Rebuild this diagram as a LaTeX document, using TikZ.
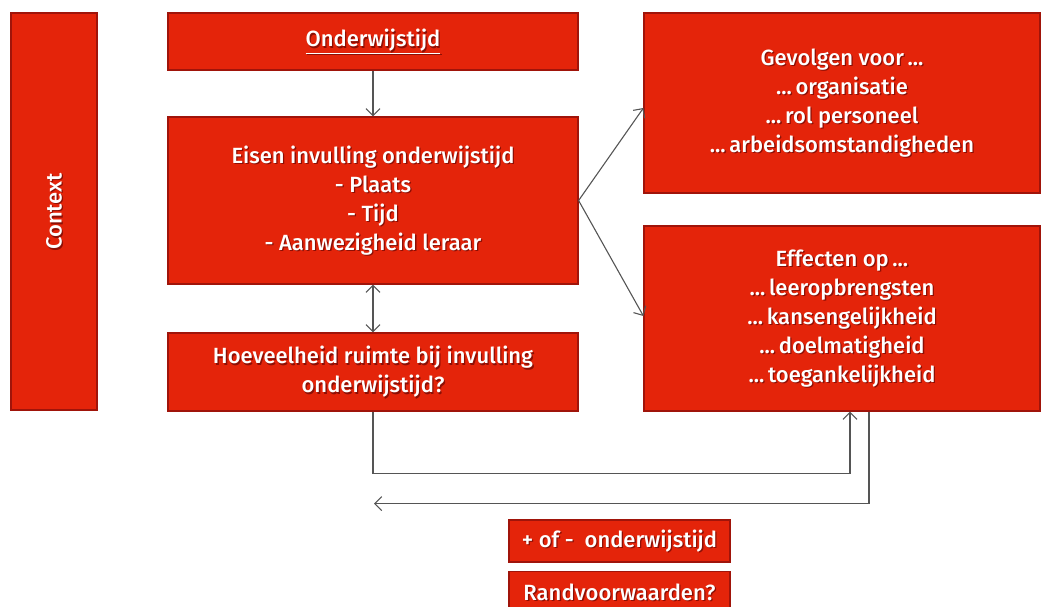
\documentclass[tikz,border=0pt]{standalone}
\usepackage{fontspec}
\setmainfont{Fira Sans}[UprightFont={* Medium}]
\usetikzlibrary{arrows.meta,calc}
\definecolor{boxred}{RGB}{228,36,10}
\definecolor{boxedge}{RGB}{160,20,10}
\definecolor{shadowc}{RGB}{140,15,5}
\definecolor{linegray}{RGB}{85,85,85}
\tikzset{
  rbox/.style={draw=boxedge, line width=1.2pt, fill=boxred, inner sep=0pt},
  txt/.style={text=white, inner sep=0pt, align=center, font=\fontsize{22}{29}\selectfont},
  shd/.style={txt, text=shadowc},
  conn/.style={draw=linegray, line width=1.1pt, -{Straight Barb[length=7pt,width=14pt]}},
  conn2/.style={draw=linegray, line width=1.1pt, {Straight Barb[length=7pt,width=14pt]}-{Straight Barb[length=7pt,width=14pt]}}
}
% box: name, position, width, height, text
\newcommand\redbox[5]{%
  \node[rbox, minimum width=#3, minimum height=#4] (#1) at (#2) {};
  \node[shd] at ([xshift=1.3pt,yshift=-1.3pt]#1.center) {#5};
  \node[txt] (#1-t) at (#1.center) {#5};}
\begin{document}
\begin{tikzpicture}[x=1pt,y=-1pt]
\useasboundingbox (0,0) rectangle (1044,607);
\begin{scope}
\clip (0,0) rectangle (1044,607);
\node[rbox, minimum width=86pt, minimum height=397pt] (ctx) at (54,211.5) {};
\node[shd, rotate=90] at ([xshift=1.3pt,yshift=-1.3pt]ctx.center) {Context};
\node[txt, rotate=90] (ctx-t) at (ctx.center) {Context};
\redbox{ond}{373,41.5}{410pt}{57pt}{\underline{Onderwijstijd}}
\redbox{eis}{373,200.5}{410pt}{167pt}{Eisen invulling onderwijstijd\\- Plaats\\- Tijd\\- Aanwezigheid leraar}
\redbox{hoe}{373,372}{410pt}{78pt}{Hoeveelheid ruimte bij invulling\\onderwijstijd?}
\redbox{gev}{842,103}{396pt}{180pt}{Gevolgen voor\,...\\...\,organisatie\\...\,rol personeel\\...\,arbeidsomstandigheden}
\redbox{eff}{842,318.5}{396pt}{185pt}{Effecten op\,...\\...\,leeropbrengsten\\...\,kansengelijkheid\\...\,doelmatigheid\\...\,toegankelijkheid}
\redbox{plus}{619.5,541}{221pt}{42pt}{+ of -\ \ onderwijstijd}
\node[rbox, minimum width=221pt, minimum height=41pt, anchor=north] (rand) at (619.5,571) {};
\node[shd] at (620.8,593.3) {Randvoorwaarden?};
\node[txt] (rand-t) at (619.5,592) {Randvoorwaarden?};
\end{scope}
\draw[conn] (ond.south) -- (eis.north);
\draw[conn2] (eis.south) -- (hoe.north);
\draw[conn] (eis.east) -- ([yshift=-5pt]gev.west);
\draw[conn] (eis.east) -- ([yshift=2.5pt]eff.west);
\draw[conn] (hoe.south) -- ++(0,62) -| ([xshift=8pt]eff.south);
\coordinate (retend) at ([yshift=-92pt,xshift=1pt]hoe.south);
\draw[conn] ([xshift=27pt]eff.south) |- (retend);
\end{tikzpicture}
\end{document}
